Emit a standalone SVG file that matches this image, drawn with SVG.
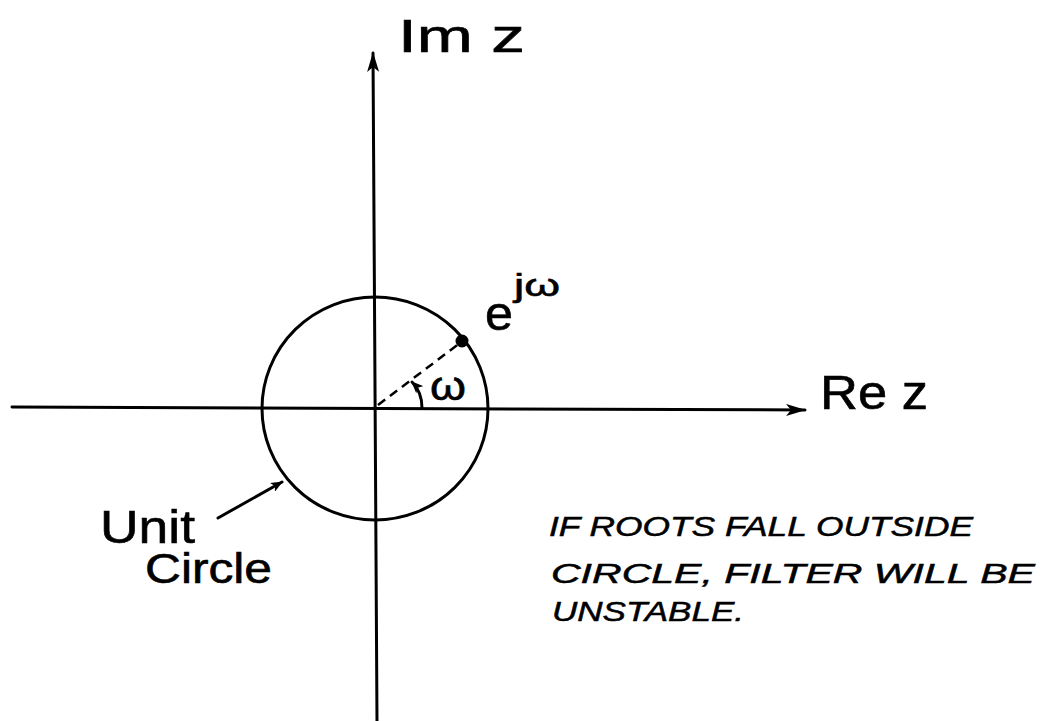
<svg xmlns="http://www.w3.org/2000/svg" width="1042" height="721" viewBox="0 0 1042 721">
<defs>
<marker id="ah" viewBox="0 0 20 12" refX="19" refY="6" markerWidth="20" markerHeight="12" markerUnits="userSpaceOnUse" orient="auto">
<path d="M0,0 L20,6 L0,12 L5,6 Z" fill="#000"/>
</marker>
<marker id="ahs" viewBox="0 0 12 10" refX="11" refY="5" markerWidth="12" markerHeight="10" markerUnits="userSpaceOnUse" orient="auto">
<path d="M0,0 L12,5 L0,10 L3,5 Z" fill="#000"/>
</marker>
</defs>
<style>
.ln{stroke:#000;stroke-width:3;fill:none;stroke-linecap:round}
.t{font-family:"Liberation Sans","DejaVu Sans",sans-serif;fill:#000;stroke:#000;stroke-width:0.6}
.h{font-family:"Liberation Sans","DejaVu Sans",sans-serif;font-style:italic;fill:#000;stroke:#000;stroke-width:0.5;font-size:27px}
</style>
<rect width="1042" height="721" fill="#fff"/>
<g id="connectors">
<line id="im-axis" class="ln" x1="377" y1="721" x2="373" y2="53" marker-end="url(#ah)"/>
<line id="re-axis" class="ln" x1="12" y1="407" x2="805" y2="410" marker-end="url(#ah)"/>
<line id="radius" x1="378" y1="405" x2="460" y2="343" stroke="#000" stroke-width="2.5" stroke-dasharray="9,6"/>
<path id="omega-arc" class="ln" d="M422,408 Q422,392 412,382" marker-end="url(#ahs)" stroke-width="2.5"/>
<line id="unit-arrow" class="ln" x1="218" y1="518" x2="282" y2="482" marker-end="url(#ahs)"/>
</g>
<g id="unit-circle">
<ellipse cx="375" cy="408.5" rx="113" ry="111.5" class="ln"/>
</g>
<g id="point">
<circle cx="462" cy="341" r="6.5" fill="#000"/>
</g>
<g id="labels">
<text class="t" x="398" y="52" font-size="46" textLength="127" lengthAdjust="spacingAndGlyphs">Im z</text>
<text class="t" x="820" y="409" font-size="48" textLength="108" lengthAdjust="spacingAndGlyphs">Re z</text>
<text class="t" x="485" y="330" font-size="48" textLength="28" lengthAdjust="spacingAndGlyphs">e</text>
<text class="t" x="514" y="296" font-size="32" textLength="46" lengthAdjust="spacingAndGlyphs">jω</text>
<text class="t" x="430" y="400" font-size="40" textLength="36" lengthAdjust="spacingAndGlyphs">ω</text>
<text class="t" x="100" y="543" font-size="46" textLength="95" lengthAdjust="spacingAndGlyphs">Unit</text>
<text class="t" x="145" y="583" font-size="42" textLength="127" lengthAdjust="spacingAndGlyphs">Circle</text>
</g>
<g id="note">
<text class="h" x="549" y="536" textLength="424" lengthAdjust="spacingAndGlyphs">IF ROOTS FALL OUTSIDE</text>
<text class="h" x="551" y="583" textLength="484" lengthAdjust="spacingAndGlyphs">CIRCLE, FILTER WILL BE</text>
<text class="h" x="552" y="621" textLength="192" lengthAdjust="spacingAndGlyphs">UNSTABLE.</text>
</g>
</svg>
